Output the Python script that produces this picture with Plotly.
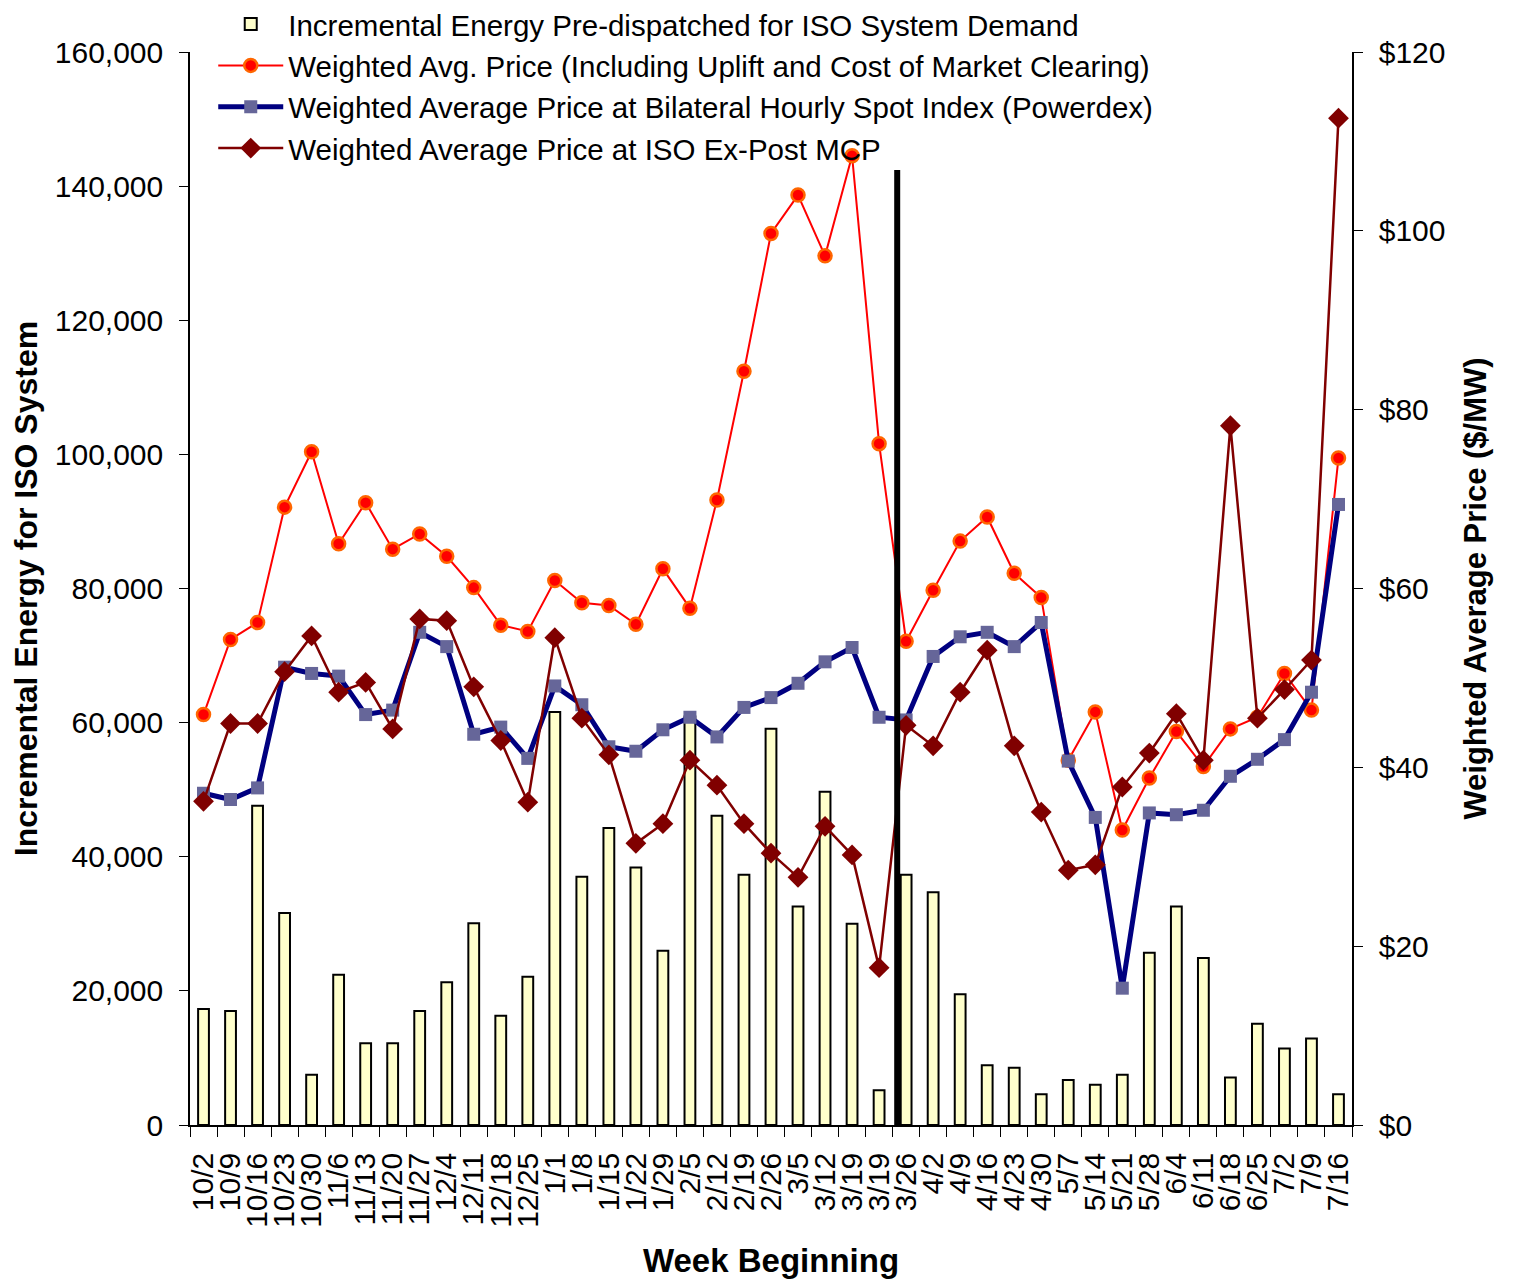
import plotly.graph_objects as go

weeks = ["10/2","10/9","10/16","10/23","10/30","11/6","11/13","11/20","11/27","12/4",
         "12/11","12/18","12/25","1/1","1/8","1/15","1/22","1/29","2/5","2/12",
         "2/19","2/26","3/5","3/12","3/19","3/19","3/26","4/2","4/9","4/16",
         "4/23","4/30","5/7","5/14","5/21","5/28","6/4","6/11","6/18","6/25",
         "7/2","7/9","7/16"]

energy = [17300,17000,47600,31600,7500,22400,12200,12200,17000,21300,
          30100,16300,22100,61600,37000,44300,38400,26000,60900,46100,
          37300,59100,32600,49700,30000,5200,37300,34700,19500,8900,
          8550,4600,6700,6000,7500,25700,32600,24900,7100,15100,
          11400,12900,4600]

price_uplift = [45.9,54.3,56.2,69.1,75.3,65.0,69.6,64.4,66.1,63.6,
                60.1,55.9,55.2,60.9,58.4,58.1,56.0,62.2,57.8,69.9,
                84.3,99.7,104.0,97.2,108.4,76.2,54.1,59.8,65.3,68.0,
                61.7,59.0,40.8,46.2,33.0,38.8,44.0,40.1,44.3,45.6,
                50.5,46.4,74.6]

price_powerdex = [37.1,36.4,37.7,51.2,50.5,50.2,45.9,46.4,55.1,53.5,
                  43.7,44.5,41.0,49.1,47.0,42.3,41.8,44.2,45.6,43.4,
                  46.7,47.8,49.4,51.8,53.4,45.6,45.3,52.4,54.6,55.1,
                  53.5,56.2,40.7,34.4,15.3,34.9,34.7,35.2,39.0,40.9,
                  43.1,48.4,69.4]

price_mcp = [36.2,44.9,44.9,50.7,54.7,48.4,49.5,44.3,56.6,56.4,
             49.0,43.0,36.1,54.5,45.5,41.4,31.5,33.7,40.8,38.0,
             33.7,30.4,27.7,33.4,30.2,17.6,44.7,42.4,48.4,53.1,
             42.4,35.0,28.5,29.1,37.8,41.6,46.0,40.8,78.2,45.5,
             48.7,52.0,112.6]

divider_pos = 25.67  # between second 3/19 week and 3/26

x = list(range(len(weeks)))
FONT = "Arial, Liberation Sans, sans-serif"

fig = go.Figure()
fig.add_trace(go.Bar(
    x=x, y=energy, name="Incremental Energy Pre-dispatched for ISO System Demand",
    marker=dict(color="#FFFFCC", line=dict(color="black", width=2)),
    width=0.4, yaxis="y"))
fig.add_trace(go.Scatter(
    x=x, y=price_uplift, yaxis="y2", mode="lines+markers",
    name="Weighted Avg. Price (Including Uplift and Cost of Market Clearing)",
    line=dict(color="#FF0000", width=2),
    marker=dict(symbol="circle", size=13, color="#FF0000", line=dict(color="#FF6600", width=2.5))))
fig.add_trace(go.Scatter(
    x=x, y=price_powerdex, yaxis="y2", mode="lines+markers",
    name="Weighted Average Price at Bilateral Hourly Spot Index (Powerdex)",
    line=dict(color="#000080", width=5),
    marker=dict(symbol="square", size=13, color="#666699")))
fig.add_trace(go.Scatter(
    x=x, y=price_mcp, yaxis="y2", mode="lines+markers",
    name="Weighted Average Price at ISO Ex-Post MCP",
    line=dict(color="#800000", width=2.5),
    marker=dict(symbol="diamond", size=16, color="#800000")))

fig.add_shape(type="line", xref="x", yref="paper", x0=divider_pos, x1=divider_pos,
              y0=0, y1=0.89, line=dict(color="black", width=6), layer="above")

fig.update_layout(
    width=1506, height=1274,
    margin=dict(l=182, r=162, t=44, b=157, autoexpand=False),
    paper_bgcolor="white", plot_bgcolor="white",
    font=dict(family=FONT, size=30, color="black"),
    showlegend=True,
    legend=dict(x=0.02, y=1.05, xanchor="left", yanchor="top",
                bgcolor="rgba(0,0,0,0)", font=dict(size=29.5), itemwidth=65,
                tracegroupgap=0),
    xaxis=dict(
        range=[-0.5, len(weeks) - 0.5],
        tickmode="array", tickvals=x, ticktext=weeks, tickangle=-90,
        ticks="outside", ticklen=14, tickcolor="rgba(0,0,0,0)",
        minor=dict(tickmode="linear", tick0=-0.5, dtick=1, ticks="outside",
                   ticklen=10, tickcolor="black", tickwidth=1),
        showline=True, linecolor="black", linewidth=1.5, showgrid=False, zeroline=False,
        tickfont=dict(size=30),
        title=dict(text="<b>Week Beginning</b>", font=dict(size=33), standoff=22),
        automargin=False),
    yaxis=dict(
        range=[0, 160000], tickmode="linear", tick0=0, dtick=20000, tickformat=",",
        ticks="outside", ticklen=9, tickcolor="black",
        showline=True, linecolor="black", linewidth=1.5, showgrid=False, zeroline=False,
        tickfont=dict(size=30), ticklabelstandoff=10,
        title=dict(text="<b>Incremental Energy for ISO System</b>", font=dict(size=32), standoff=18),
        automargin=False),
    yaxis2=dict(
        range=[0, 120], tickmode="linear", tick0=0, dtick=20, tickprefix="$",
        overlaying="y", side="right",
        ticks="outside", ticklen=9, tickcolor="black",
        showline=True, linecolor="black", linewidth=1.5, showgrid=False, zeroline=False,
        tickfont=dict(size=30), ticklabelstandoff=10,
        title=dict(text="<b>Weighted Average Price ($/MW)</b>", font=dict(size=31), standoff=20),
        automargin=False),
    bargap=0.6,
)

fig.write_html("out.html")
